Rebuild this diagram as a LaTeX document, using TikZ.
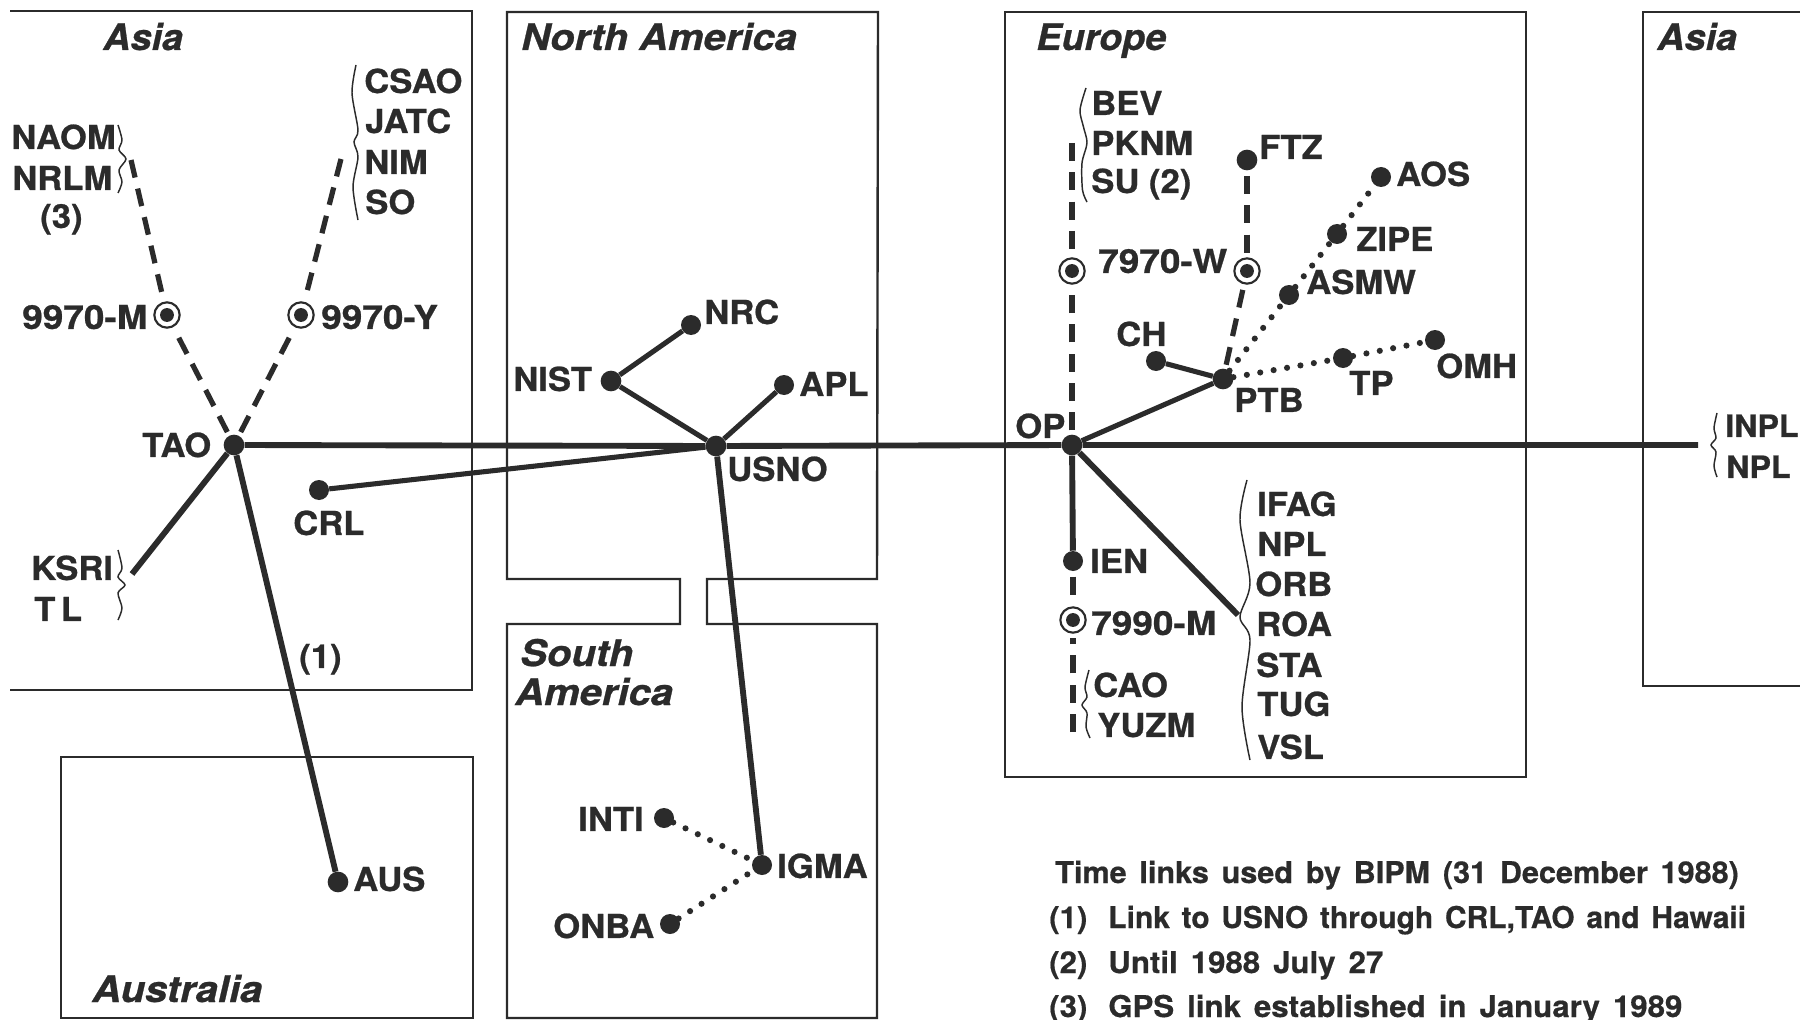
\documentclass[tikz,border=0pt]{standalone}
\usepackage{fontspec}
\setmainfont{TeX Gyre Heros}
\newfontfamily\lblfont[BoldFeatures={FakeStretch=1.05,FakeBold=0.7}]{TeX Gyre Heros}
\newfontfamily\numfont[BoldFeatures={FakeStretch=1.12,FakeBold=0.7}]{TeX Gyre Heros}
\newfontfamily\regionfont[BoldItalicFeatures={FakeStretch=1.09,FakeBold=0.7}]{TeX Gyre Heros}
\newfontfamily\regionfontb[BoldItalicFeatures={FakeStretch=1.03,FakeBold=0.7}]{TeX Gyre Heros}
\newfontfamily\legendfont[WordSpace=1.5,BoldFeatures={FakeStretch=1.04,FakeBold=0.5,WordSpace=1.5}]{TeX Gyre Heros}
\newfontfamily\legendfontb[WordSpace=1.5,BoldFeatures={FakeStretch=1.02,FakeBold=0.5,WordSpace=1.5}]{TeX Gyre Heros}
\newfontfamily\legendfontc[WordSpace=1.4,BoldFeatures={FakeStretch=1.0,FakeBold=0.5,WordSpace=1.4}]{TeX Gyre Heros}
\definecolor{ink}{HTML}{2B2B2B}
\tikzset{
  lbl/.style={anchor=base west,inner sep=0pt,yshift=-0.7pt,text=ink,font=\lblfont\fontsize{24.75}{30}\selectfont\bfseries},
  edgelbl/.style={anchor=base west,inner sep=0pt,yshift=-0.7pt,text=ink,font=\lblfont\fontsize{23}{28}\selectfont\bfseries},
  numlbl/.style={anchor=base west,inner sep=0pt,yshift=-0.7pt,text=ink,font=\numfont\fontsize{24.75}{30}\selectfont\bfseries},
  region/.style={anchor=base west,inner sep=0pt,text=ink,font=\regionfont\fontsize{27.5}{33}\selectfont\bfseries\itshape},
  regionb/.style={anchor=base west,inner sep=0pt,text=ink,font=\regionfontb\fontsize{27.5}{33}\selectfont\bfseries\itshape},
  legend/.style={anchor=base west,inner sep=0pt,text=ink,font=\legendfont\fontsize{22.5}{27}\selectfont\bfseries},
  legendb/.style={anchor=base west,inner sep=0pt,text=ink,font=\legendfontb\fontsize{22.5}{27}\selectfont\bfseries},
  legendc/.style={anchor=base west,inner sep=0pt,text=ink,font=\legendfontc\fontsize{22.5}{27}\selectfont\bfseries},
  station/.style={circle,fill=ink,inner sep=0pt,minimum size=15.5pt},
  smallstation/.style={circle,fill=ink,inner sep=0pt,minimum size=15pt},
  target/.style={circle,draw=ink,fill=white,line width=1.6pt,inner sep=0pt,minimum size=19pt,
    path picture={\fill[ink] (path picture bounding box.center) circle (5.2pt);}},
  boxline/.style={draw=ink,line width=1.8pt,line join=miter},
  link/.style={draw=ink,line width=4.4pt},
  lightlink/.style={draw=ink,line width=3.8pt},
  mainlink/.style={draw=ink,line width=4.4pt},
  dashlink/.style={draw=ink,line width=3.9pt,dash pattern=on 13.5pt off 8.5pt},
  dotlink/.style={draw=ink,line width=4.6pt,line cap=round,dash pattern=on 0pt off 10.2pt},
  curl/.style={draw=ink,line width=1.1pt}
}
\begin{document}
\begin{tikzpicture}[x=0.75pt,y=-0.75pt]
\useasboundingbox[fill=white] (0,0) rectangle (1800,1020);
% region outlines
\draw[boxline] (10,11) -- (472,11) -- (472,690) -- (10,690);
\draw[boxline] (680,579) -- (507,579) -- (507,12) -- (878,12) -- (877,579) -- (707,579) -- (707,624) -- (877,624) -- (877,1018) -- (507,1018) -- (507,624) -- (680,624) -- cycle;
\draw[boxline] (1005,12) rectangle (1526,777);
\draw[boxline] (1800,12) -- (1643,12) -- (1643,686) -- (1800,686);
\draw[boxline] (61,757) rectangle (473,1018);
% region names
\node[regionb] (rAsiaL) at (103,50) {Asia};
\node[region] (rNA) at (521,50) {North America};
\node[region] (rSA1) at (520,666) {South};
\node[region] (rSA2) at (515,705) {America};
\node[regionb] (rEU) at (1036,50) {Europe};
\node[regionb] (rAsiaR) at (1657,50) {Asia};
\node[region] (rAU) at (92,1002) {Australia};
% stations
\node[station] (TAO) at (234,445) {};
\node[smallstation] (CRL) at (319,490) {};
\node[station] (AUS) at (338,882) {};
\node[station] (USNO) at (716,446) {};
\node[station] (NIST) at (611,381) {};
\node[smallstation] (NRC) at (691,325) {};
\node[smallstation] (APL) at (784,385) {};
\node[smallstation] (INTI) at (664,818) {};
\node[smallstation] (IGMA) at (762,865) {};
\node[smallstation] (ONBA) at (670,924) {};
\node[station] (OP) at (1072,445) {};
\node[station] (PTB) at (1223,379) {};
\node[smallstation] (CH) at (1156,361) {};
\node[station] (FTZ) at (1247,160) {};
\node[smallstation] (AOS) at (1381,177) {};
\node[smallstation] (ZIPE) at (1337,234) {};
\node[smallstation] (ASMW) at (1289,295) {};
\node[smallstation] (TP) at (1343,358) {};
\node[smallstation] (OMH) at (1435,340) {};
\node[smallstation] (IEN) at (1073,561) {};
\node[target] (tM) at (167,315) {};
\node[target] (tY) at (301,315) {};
\node[target] (tW1) at (1072,271) {};
\node[target] (tW2) at (1247,271) {};
\node[target] (tM2) at (1073,620) {};
% free ends
\coordinate (endNAOM) at (131,160);
\coordinate (endCSAO) at (341,159);
\coordinate (endKSRI) at (132,574);
\coordinate (endBEV) at (1072,143);
\coordinate (endCAO) at (1073,732);
\coordinate (endIFAG) at (1238,615);
\coordinate (endINPL) at (1698,445);
% solid links
\draw[mainlink] (TAO) -- (USNO) -- (OP) -- (endINPL);
\draw[link] (TAO) -- (endKSRI);
\draw[link] (TAO) -- (AUS);
\draw[lightlink] (CRL) -- (USNO);
\draw[lightlink] (NIST) -- (USNO);
\draw[lightlink] (NIST) -- (NRC);
\draw[lightlink] (APL) -- (USNO);
\draw[link] (USNO) -- (IGMA);
\draw[lightlink] (OP) -- (PTB);
\draw[lightlink] (CH) -- (PTB);
\draw[link] (OP) -- (IEN);
\draw[link] (OP) -- (endIFAG);
% dashed links
\draw[dashlink,shorten <=3pt,shorten >=3pt] (TAO) -- (tM);
\draw[dashlink,shorten >=3pt] (endNAOM) -- (tM);
\draw[dashlink,shorten <=3pt,shorten >=3pt] (TAO) -- (tY);
\draw[dashlink,shorten >=3pt] (endCSAO) -- (tY);
\draw[dashlink,shorten <=3pt,shorten >=3pt] (OP) -- (tW1);
\draw[dashlink,shorten >=3pt] (endBEV) -- (tW1);
\draw[dashlink,shorten <=3pt,shorten >=3pt] (PTB) -- (tW2);
\draw[dashlink,shorten <=4pt,shorten >=3pt] (FTZ) -- (tW2);
\draw[dashlink,shorten <=4pt,shorten >=2pt] (IEN) -- (tM2);
\draw[dashlink,shorten >=3pt] (endCAO) -- (tM2);
% dotted links
\draw[dotlink] (PTB) -- (ASMW);
\draw[dotlink] (ASMW) -- (ZIPE);
\draw[dotlink] (ZIPE) -- (AOS);
\draw[dotlink] (PTB) -- (TP);
\draw[dotlink] (TP) -- (OMH);
\draw[dotlink] (INTI) -- (IGMA);
\draw[dotlink] (ONBA) -- (IGMA);
% curly brackets
\draw[curl] plot[smooth] coordinates {(118,125) (122,140) (119,150) (126,159) (119,170) (122,182) (118,193)};
\draw[curl] plot[smooth] coordinates {(356,65) (352,93) (358,130) (354,142) (358,157) (353,187) (358,220)};
\draw[curl] plot[smooth] coordinates {(118,550) (122,568) (118,577) (125,585) (118,593) (122,608) (118,620)};
\draw[curl] plot[smooth] coordinates {(1086,88) (1080,110) (1083.5,127) (1087,143) (1082,163) (1082.5,190) (1087,202)};
\draw[curl] plot[smooth] coordinates {(1247,480) (1240,520) (1250,583) (1240,617) (1250,640) (1242,707) (1250,760)};
\draw[curl] plot[smooth] coordinates {(1089,670) (1085,687) (1087,697) (1082,705) (1087,713) (1086,727) (1090,738)};
\draw[curl] plot[smooth] coordinates {(1717,413) (1714,428) (1716,438) (1711,445) (1716,452) (1714,466) (1717,477)};
% labels
\node[lbl] (lNAOM) at (11,148) {NAOM};
\node[lbl] (lNRLM) at (12,189) {NRLM};
\node[lbl] (l3) at (40,227) {(3)};
\node[lbl] (lCSAO) at (364,92) {CSAO};
\node[lbl] (lJATC) at (365,132) {JATC};
\node[lbl] (lNIM) at (364,173) {NIM};
\node[lbl] (lSO) at (365,213) {SO};
\node[numlbl] (l9M) at (22,328) {9970-M};
\node[numlbl] (l9Y) at (321,328) {9970-Y};
\node[lbl] (lTAO) at (142,456) {TAO};
\node[lbl] (lCRL) at (293,534) {CRL};
\node[lbl] (lKSRI) at (31,579) {KSRI};
\node[lbl] (lTL) at (34,620) {T\,L};
\node[lbl] (l1) at (299,667) {(1)};
\node[lbl] (lAUS) at (353,890) {AUS};
\node[lbl] (lNRC) at (704,323) {NRC};
\node[lbl] (lNIST) at (513,390) {NIST};
\node[lbl] (lAPL) at (799,395) {APL};
\node[lbl] (lUSNO) at (727,480) {USNO};
\node[lbl] (lINTI) at (578,830) {INTI};
\node[lbl] (lIGMA) at (777,877) {IGMA};
\node[lbl] (lONBA) at (553,937) {ONBA};
\node[lbl] (lBEV) at (1091,114) {BEV};
\node[lbl] (lPKNM) at (1091,154) {PKNM};
\node[lbl] (lSU) at (1091,192) {SU (2)};
\node[lbl] (lFTZ) at (1259,158) {FTZ};
\node[lbl] (lAOS) at (1396,185) {AOS};
\node[lbl] (lZIPE) at (1356,250) {ZIPE};
\node[lbl] (lASMW) at (1306,293) {ASMW};
\node[numlbl] (l7W) at (1098,272) {7970-W};
\node[lbl] (lCH) at (1116,345) {CH};
\node[lbl] (lPTB) at (1234,411) {PTB};
\node[lbl] (lTP) at (1349,394) {TP};
\node[lbl] (lOMH) at (1436,377) {OMH};
\node[lbl] (lOP) at (1015,437) {OP};
\node[lbl] (lIEN) at (1090,572) {IEN};
\node[numlbl] (l7M) at (1091,634) {7990-M};
\node[lbl] (lCAO) at (1093,696) {CAO};
\node[lbl] (lYUZM) at (1097,736) {YUZM};
\node[lbl] (lIFAG) at (1257,515) {IFAG};
\node[lbl] (lNPL) at (1257,555) {NPL};
\node[lbl] (lORB) at (1255,595) {ORB};
\node[lbl] (lROA) at (1256,635) {ROA};
\node[lbl] (lSTA) at (1256,676) {STA};
\node[lbl] (lTUG) at (1257,715) {TUG};
\node[lbl] (lVSL) at (1257,758) {VSL};
\node[edgelbl] (lINPL) at (1725,436) {INPL};
\node[edgelbl] (lNPL2) at (1726,477) {NPL};
% legend
\node[legendb] (leg0) at (1055,883) {Time links used by BIPM (31 December 1988)};
\node[legend] (leg1a) at (1049,928) {(1)};
\node[legendc] (leg1b) at (1108,928) {Link to USNO through CRL,TAO and Hawaii};
\node[legend] (leg2a) at (1049,973) {(2)};
\node[legend] (leg2b) at (1108,973) {Until 1988 July 27};
\node[legend] (leg3a) at (1049,1017) {(3)};
\node[legend] (leg3b) at (1108,1017) {GPS link established in January 1989};
\end{tikzpicture}
\end{document}
